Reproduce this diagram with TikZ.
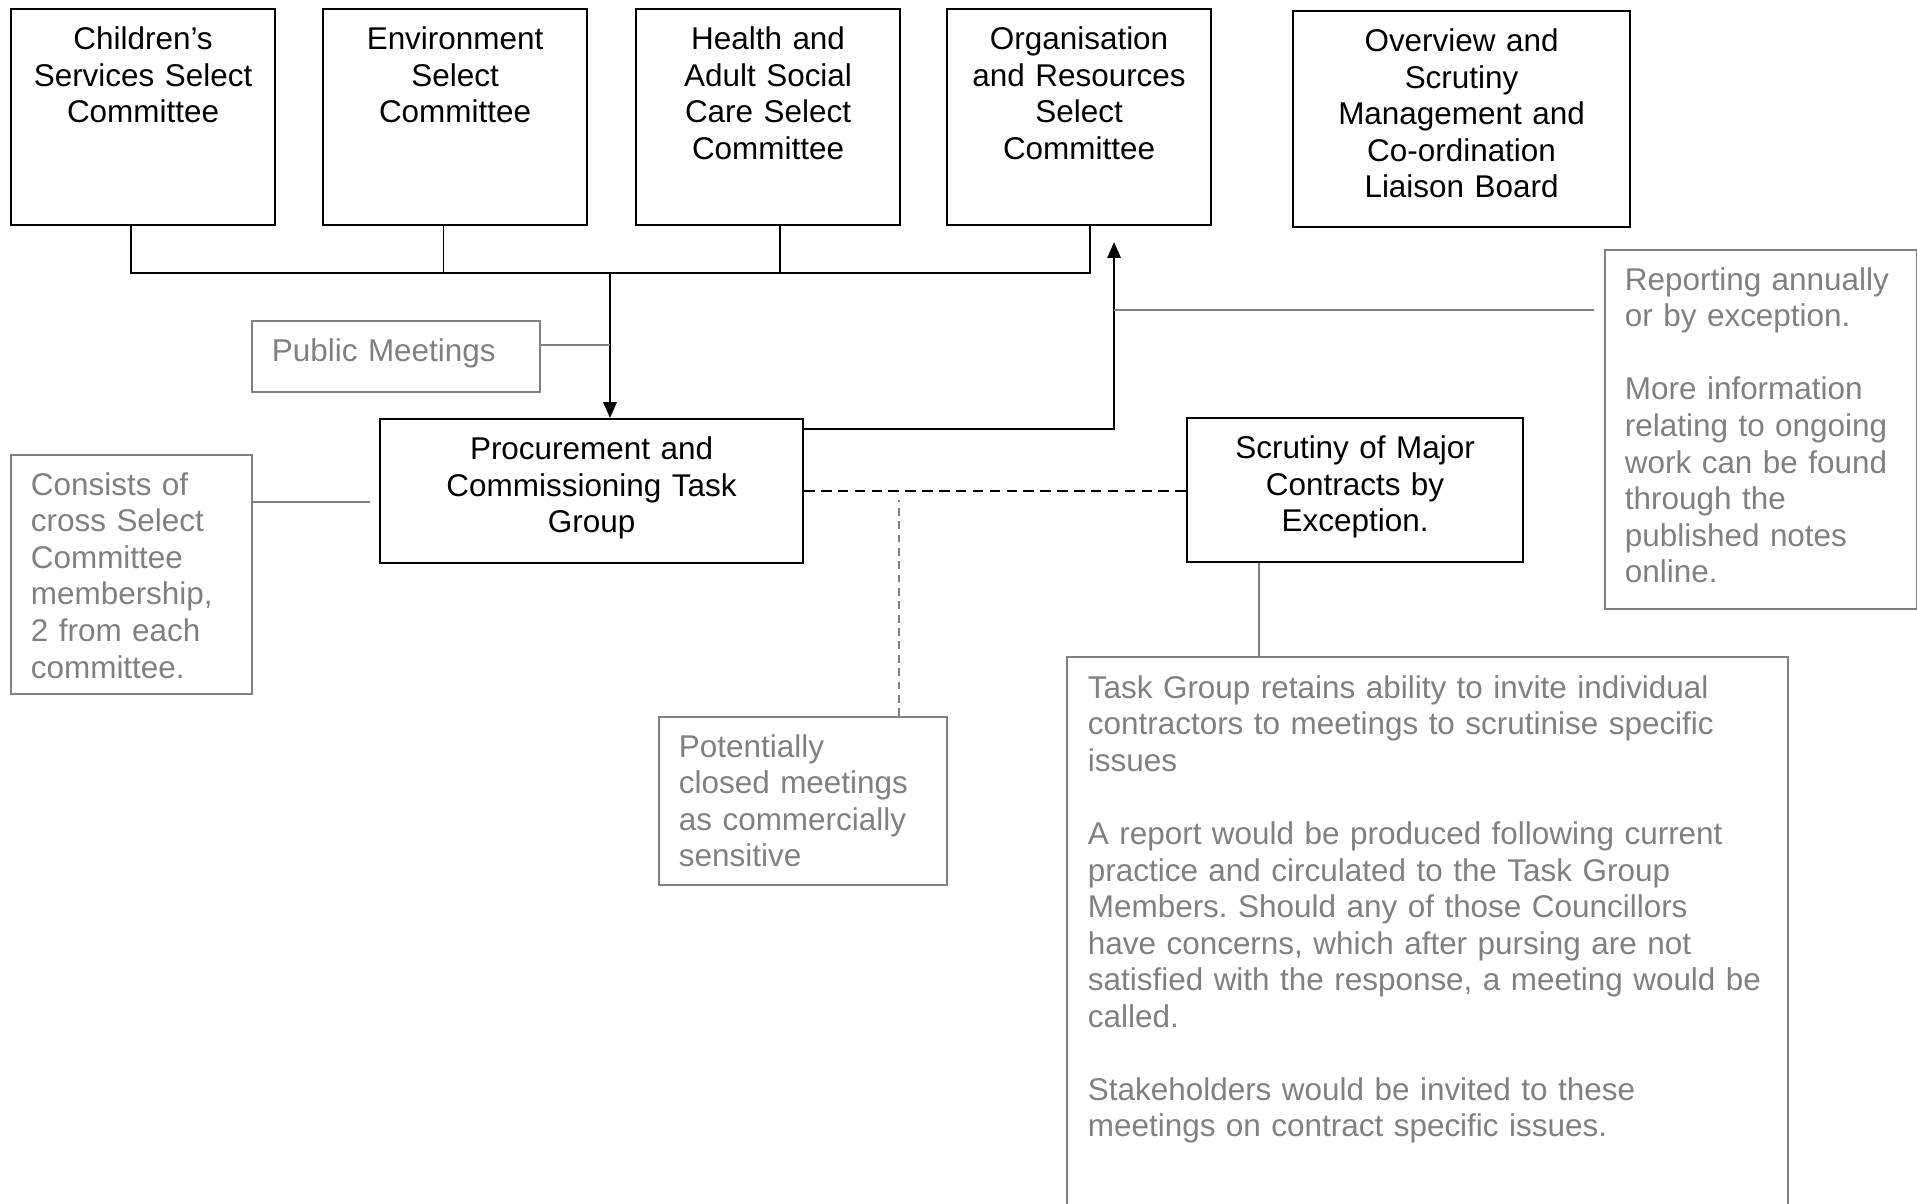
\documentclass[tikz,border=0pt]{standalone}
\usepackage{fontspec}
\setmainfont{Liberation Sans}
\usetikzlibrary{arrows.meta,positioning}
\definecolor{notegrey}{RGB}{128,128,128}
\def\boxwidth{2.64cm}
\frenchspacing

\begin{document}
\begin{tikzpicture}[>={Triangle[length=4.5pt,width=3.8pt]}, font=\fontsize{8.95}{10.4}\selectfont]
\tikzstyle{panel}=[draw, line width=0.6pt, anchor=north west, align=center, inner xsep=0pt, inner ysep=4.2pt, text height=7.3pt]
\tikzstyle{committee}=[panel, text width=\boxwidth, text depth=45.75pt]
\tikzstyle{group}=[panel, text depth=25.27pt]
\tikzstyle{note}=[draw=notegrey, text=notegrey, line width=0.5pt, anchor=north west, align=left, inner xsep=0.2cm, inner ysep=4.2pt, text height=7.3pt]
\tikzstyle{note line}=[draw=notegrey, line width=0.6pt]
\tikzstyle{link}=[line width=0.5pt]

\useasboundingbox (0,0) rectangle (19.17,-12.04);

% Draw the select committees
\node[committee] (chl) at (0.10,-0.08) {Children’s\\Services Select\\Committee};
\node[committee] (env) at (3.22,-0.08) {Environment\\Select\\Committee};
\node[committee] (hsc) at (6.35,-0.08) {Health and\\Adult Social\\Care Select\\Committee};
\node[committee] (ors) at (9.46,-0.08) {Organisation\\and Resources\\Select\\Committee};
\node[committee, text width=3.37cm] (osm) at (12.92,-0.10) {Overview and\\Scrutiny\\Management and\\Co-ordination\\Liaison Board};

% Draw the task group and the contracts box
\node[group, text width=4.23cm] (pct) at (3.79,-4.18) {Procurement and\\Commissioning Task\\Group};
\node[group, text width=3.36cm] (smc) at (11.86,-4.17) {Scrutiny of Major\\Contracts by\\Exception.};

% Draw the notes
\node[note, text width=2.48cm, text depth=4.5pt] (pub) at (2.51,-3.20) {Public Meetings};
\node[note, text width=2.01cm, text depth=52.3pt] (cons) at (0.10,-4.54) {Consists of\\cross Select\\Committee\\membership,\\2 from each\\committee.};
\node[note, text width=2.72cm, text depth=86.4pt] (rep) at (16.04,-2.49) {Reporting annually\\or by exception.\\[10.4pt]More information\\relating to ongoing\\work can be found\\through the\\published notes\\online.};
\node[note, text width=2.48cm, text depth=32.1pt] (closed) at (6.58,-7.16) {Potentially\\closed meetings\\as commercially\\sensitive};
\node[note, draw=none, text width=6.79cm, text depth=139.9pt] (task) at (10.67,-6.57) {Task Group retains ability to invite individual\\contractors to meetings to scrutinise specific\\issues\\[10.4pt]A report would be produced following current\\practice and circulated to the Task Group\\Members. Should any of those Councillors\\have concerns, which after pursing are not\\satisfied with the response, a meeting would be\\called.\\[10.4pt]Stakeholders would be invited to these\\meetings on contract specific issues.};
\draw[note line, line width=0.5pt] (task.south west) |- (task.north east) -- (task.south east);

% Join the committees to the task group
\coordinate (bus) at (6.10,-2.73);
\foreach \name/\dx in {chl/-0.12, env/-0.115, hsc/0.12, ors/0.11}
  \draw[link] ([xshift=\dx cm]\name.south) |- (bus);
\draw[link,->] (bus) -- (bus |- pct.north);

% Report back up
\coordinate (tip) at ([xshift=0.35cm,yshift=-0.16cm]ors.south);
\draw[link,->] ([yshift=-0.11cm]pct.north east) -| (tip);
\draw[link, dash pattern=on 3pt off 1.8pt] (pct.east) -- (pct.east -| smc.west);

% Connect the notes
\coordinate (pm) at ([yshift=0.115cm]pub.east);
\draw[note line] (pm) -- (pm -| bus);
\coordinate (cm) at ([yshift=-0.11cm]pct.west);
\draw[note line, shorten <=0.09cm] (cm) -- (cm -| cons.east);
\coordinate (ra) at ([yshift=1.195cm]rep.west);
\draw[note line, shorten <=0.1cm] (ra) -- (ra -| tip);
\coordinate (cl) at ([xshift=0.96cm]closed.north);
\draw[note line, line width=0.5pt, dash pattern=on 2.2pt off 1.6pt, shorten >=0.09cm] (cl) -- (cl |- pct.east);
\coordinate (sc) at ([xshift=-0.96cm]smc.south);
\draw[note line] (sc) -- (sc |- task.north);
\end{tikzpicture}
\end{document}
